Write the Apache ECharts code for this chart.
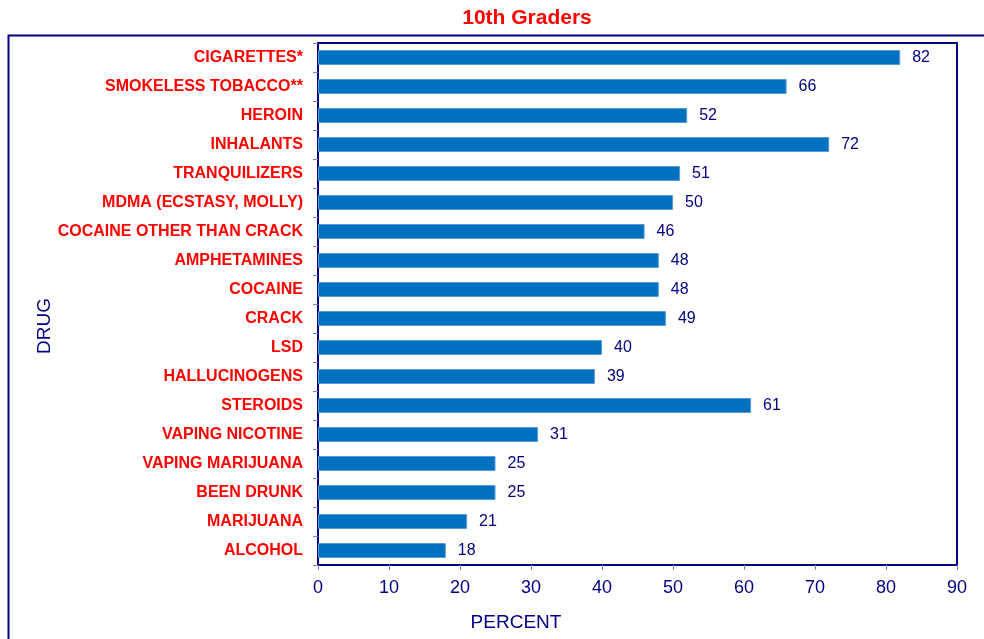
<!DOCTYPE html>
<html>
<head>
<meta charset="utf-8">
<script src="https://cdn.jsdelivr.net/npm/echarts@6/dist/echarts.min.js"></script>
<style>
html,body{margin:0;padding:0;background:#fff;}
#chart{width:984px;height:639px;}
</style>
</head>
<body>
<div id="chart"></div>
<script>
const categories = ["CIGARETTES*","SMOKELESS TOBACCO**","HEROIN","INHALANTS","TRANQUILIZERS","MDMA (ECSTASY, MOLLY)","COCAINE OTHER THAN CRACK","AMPHETAMINES","COCAINE","CRACK","LSD","HALLUCINOGENS","STEROIDS","VAPING NICOTINE","VAPING MARIJUANA","BEEN DRUNK","MARIJUANA","ALCOHOL"];
const values = [82,66,52,72,51,50,46,48,48,49,40,39,61,31,25,25,21,18];
const xTicks = [0,10,20,30,40,50,60,70,80,90];

const navy = '#000080';
const font = 'Liberation Sans, Arial, sans-serif';
const chart = echarts.init(document.getElementById('chart'));
chart.setOption({
  animation: false,
  textStyle: {fontFamily: font},
  graphic: [{
    type: 'rect', left: 6, top: 33, z: -1,
    shape: {width: 1000, height: 700},
    style: {fill: 'none', stroke: navy, lineWidth: 2}
  }, {
    type: 'text', x: 527, y: 18,
    style: {text: '10th Graders', fill: '#ff0000', font: 'bold 21px ' + font, textAlign: 'center', textVerticalAlign: 'middle'}
  }, {
    type: 'text', x: 516, y: 623,
    style: {text: 'PERCENT', fill: navy, font: '19px ' + font, textAlign: 'center', textVerticalAlign: 'middle'}
  }, {
    type: 'text', x: 45, y: 326, rotation: Math.PI / 2,
    style: {text: 'DRUG', fill: navy, font: '19px ' + font, textAlign: 'center', textVerticalAlign: 'middle'}
  }],
  grid: {left: 318, right: 27, top: 43, bottom: 74, show: true, borderColor: navy, borderWidth: 2, backgroundColor: 'transparent'},
  xAxis: {
    type: 'value', min: xTicks[0], max: xTicks[xTicks.length-1], interval: 10,
    axisLine: {show: true, lineStyle: {color: navy, width: 2}},
    axisTick: {show: true, length: 5, lineStyle: {color: '#8080c0'}},
    axisLabel: {color: navy, fontSize: 18, margin: 14},
    splitLine: {show: false}
  },
  yAxis: {
    type: 'category', data: categories, inverse: true,
    axisLine: {show: true, lineStyle: {color: navy, width: 2}},
    axisTick: {show: true, length: 5, lineStyle: {color: '#8080c0'}},
    axisLabel: {color: '#ff0000', fontSize: 16, fontWeight: 'bold', margin: 15}
  },
  series: [{
    type: 'bar', data: values, barWidth: 15,
    itemStyle: {color: '#0070c0', borderColor: '#5b9bd5', borderWidth: 1},
    label: {show: true, position: 'right', distance: 12, color: navy, fontSize: 16}
  }]
});
</script>
</body>
</html>
